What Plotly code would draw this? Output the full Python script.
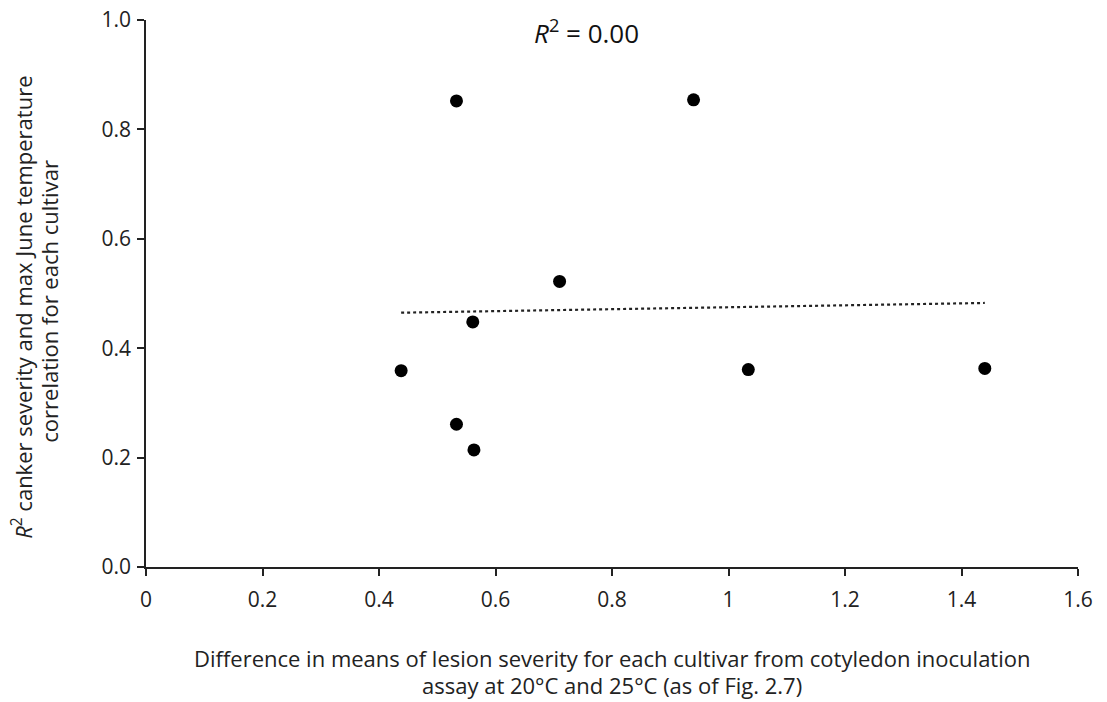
import numpy as np
import plotly.graph_objects as go

# Difference in means of lesion severity (20°C vs 25°C) per cultivar
lesion_diff = [0.533, 0.940, 0.710, 0.561, 0.438, 1.034, 0.533, 0.563, 1.440]
# R² of canker severity vs max June temperature per cultivar
canker_r2 = [0.852, 0.854, 0.522, 0.448, 0.359, 0.361, 0.261, 0.214, 0.363]

x_ticks = [0, 0.2, 0.4, 0.6, 0.8, 1, 1.2, 1.4, 1.6]
x_tick_text = ["0", "0.2", "0.4", "0.6", "0.8", "1", "1.2", "1.4", "1.6"]
y_ticks = [0.0, 0.2, 0.4, 0.6, 0.8, 1.0]
y_tick_text = ["0.0", "0.2", "0.4", "0.6", "0.8", "1.0"]

x = np.array(lesion_diff)
y = np.array(canker_r2)
slope, intercept = np.polyfit(x, y, 1)
pred = slope * x + intercept
r2 = 1 - np.sum((y - pred) ** 2) / np.sum((y - y.mean()) ** 2)
fit_x = np.array([x.min(), x.max()])
fit_y = slope * fit_x + intercept

fig = go.Figure()
fig.add_trace(go.Scatter(
    x=fit_x, y=fit_y, mode="lines",
    line=dict(color="#222222", width=2.2, dash="dot"),
    hoverinfo="skip", showlegend=False,
))
fig.add_trace(go.Scatter(
    x=lesion_diff, y=canker_r2, mode="markers",
    marker=dict(color="black", size=13, line=dict(width=0)),
    showlegend=False,
))

FONT = "Open Sans, Liberation Sans, sans-serif"
tick_font = dict(family=FONT, size=21, color="#222222")

fig.update_xaxes(
    range=[0, 1.6], tickvals=x_ticks, ticktext=x_tick_text,
    showline=True, linecolor="#222222", linewidth=1.6,
    ticks="outside", ticklen=7, tickwidth=1.6, tickcolor="#222222",
    showgrid=False, zeroline=False, tickfont=tick_font,
    ticklabelstandoff=6, automargin=False,
)
fig.update_yaxes(
    range=[0, 1.0], tickvals=y_ticks, ticktext=y_tick_text,
    showline=True, linecolor="#222222", linewidth=1.6,
    ticks="outside", ticklen=7, tickwidth=1.6, tickcolor="#222222",
    showgrid=False, zeroline=False, tickfont=tick_font,
    ticklabelstandoff=2, automargin=False,
)

title_font = dict(family=FONT, size=22, color="#222222")

fig.update_layout(
    width=1107, height=702,
    margin=dict(l=146, r=29, t=20, b=135),
    plot_bgcolor="white", paper_bgcolor="white",
    annotations=[
        dict(
            text=f"<i>R</i><sup>2</sup> = {r2:.2f}",
            xref="paper", yref="paper", x=0.473, y=0.978,
            xanchor="center", yanchor="middle", showarrow=False,
            font=dict(family=FONT, size=26, color="#111111"),
        ),
        dict(
            text="Difference in means of lesion severity for each cultivar from cotyledon inoculation",
            xref="paper", yref="paper", x=0.5, y=-0.166,
            xanchor="center", yanchor="middle", showarrow=False, font=title_font,
        ),
        dict(
            text="assay at 20°C and 25°C (as of Fig. 2.7)",
            xref="paper", yref="paper", x=0.5, y=-0.216,
            xanchor="center", yanchor="middle", showarrow=False, font=title_font,
        ),
        dict(
            text="<i>R</i><sup>2</sup> canker severity and max June temperature",
            xref="paper", yref="paper", x=-0.1335, y=0.475,
            xanchor="center", yanchor="middle", textangle=-90, showarrow=False,
            font=title_font,
        ),
        dict(
            text="correlation for each cultivar",
            xref="paper", yref="paper", x=-0.1035, y=0.486,
            xanchor="center", yanchor="middle", textangle=-90, showarrow=False,
            font=title_font,
        ),
    ],
)

fig.write_html("out.html")
